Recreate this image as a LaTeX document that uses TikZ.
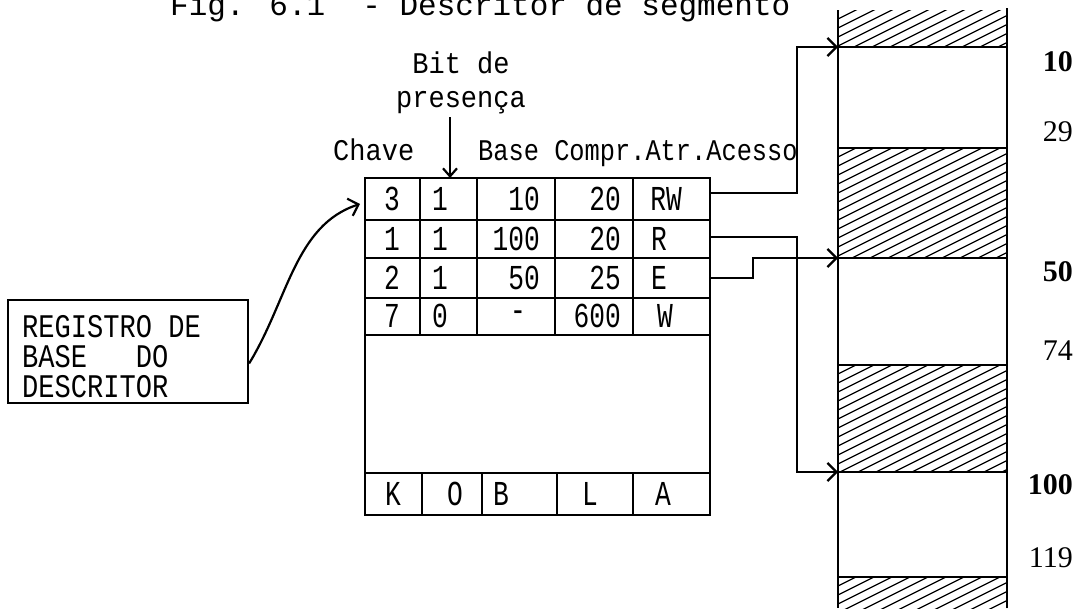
\documentclass[tikz,border=0pt]{standalone}
\usepackage{fontspec}
\usetikzlibrary{arrows.meta}
\newfontfamily\ttitle{Liberation Mono}
\newfontfamily\tlbl[FakeStretch=0.9]{Liberation Mono}
\newfontfamily\tlblb[FakeStretch=0.845]{Liberation Mono}
\newfontfamily\tcell[FakeStretch=0.75]{Liberation Mono}
\newfontfamily\treg[FakeStretch=0.82]{Liberation Mono}
\newfontfamily\tnum{Liberation Serif}
\newcommand\hatchreg[2]{%
  \begin{scope}
    \clip (838,#1) rectangle (1007,#2);
    \foreach \k in {0,...,24} {\draw[hatchline] (838,{#1+9*\k}) -- ++(400,-200);}
  \end{scope}}
\begin{document}
\begin{tikzpicture}[x=1pt,y=-1pt,
  tbl/.style={line width=2.6pt},
  conn/.style={line width=2.2pt},
  mem/.style={line width=2.4pt},
  hatchline/.style={line width=1.3pt},
  arrowv/.style={-{Straight Barb[length=9pt,width=18pt]}},
  arrowvs/.style={-{Straight Barb[length=8pt,width=14pt]}},
  cell/.style={inner sep=0pt, font=\tcell\fontsize{35}{40}\selectfont},
  lbl/.style={inner sep=0pt, font=\tlbl\fontsize{30}{34}\selectfont},
  lblb/.style={inner sep=0pt, font=\tlblb\fontsize{30}{34}\selectfont},
  regtxt/.style={inner sep=0pt, anchor=base west, font=\treg\fontsize{33}{36}\selectfont},
  num/.style={inner sep=0pt, anchor=east, font=\tnum\fontsize{30}{34}\selectfont},
  titlefont/.style={inner sep=0pt, font=\ttitle\fontsize{31}{36}\selectfont}]
\useasboundingbox (0,0) rectangle (1082,608);

% title
\node[titlefont, anchor=base west] (title) at (170,15) {Fig. 6.1\ \ - Descritor de segmento};

% header labels
\node[lbl, anchor=base] (bit1) at (461,73) {Bit de};
\node[lbl, anchor=base] (bit2) at (461,107) {presença};
\node[lbl, anchor=base west] (chave) at (333,160) {Chave};
\node[lblb, anchor=base west] (hdr) at (478,160) {Base Compr.Atr.Acesso};

% table
\draw[tbl] (365,178) rectangle (710,515);
\foreach \y in {220,258,298,335,473} \draw[tbl] (365,\y) -- (710,\y);
\foreach \x in {420,477,555,633} \draw[tbl] (\x,178) -- (\x,335);
\foreach \x in {422,482,557,633} \draw[tbl] (\x,473) -- (\x,515);

% row 1
\node[cell] (a1) at (392,199) {3};
\node[cell] (b1) at (440,199) {1};
\node[cell, anchor=east] (c1) at (540,199) {10};
\node[cell, anchor=east] (d1) at (621,199) {20};
\node[cell] (e1) at (666,199) {RW};
% row 2
\node[cell] (a2) at (392,239) {1};
\node[cell] (b2) at (440,239) {1};
\node[cell, anchor=east] (c2) at (540,239) {100};
\node[cell, anchor=east] (d2) at (621,239) {20};
\node[cell, anchor=west] (e2) at (651,239) {R};
% row 3
\node[cell] (a3) at (392,278) {2};
\node[cell] (b3) at (440,278) {1};
\node[cell, anchor=east] (c3) at (540,278) {50};
\node[cell, anchor=east] (d3) at (621,278) {25};
\node[cell, anchor=west] (e3) at (651,278) {E};
% row 4
\node[cell] (a4) at (392,316) {7};
\node[cell] (b4) at (440,316) {0};
\node[cell] (c4) at (518,316) {-};
\node[cell, anchor=east] (d4) at (621,316) {600};
\node[cell] (e4) at (665,316) {W};
% bottom row
\node[cell] (k) at (393,494) {K};
\node[cell] (o) at (455,494) {O};
\node[cell, anchor=west] (bb) at (493,494) {B};
\node[cell] (l) at (590,494) {L};
\node[cell] (aa) at (663,494) {A};

% register box
\node[draw, line width=2.2pt, minimum width=240pt, minimum height=103pt, inner sep=0pt] (reg) at (128,351.5) {};
\node[regtxt] (rt1) at (22,337) {REGISTRO DE};
\node[regtxt] (rt2) at (22,367) {BASE~~~DO};
\node[regtxt] (rt3) at (22,397) {DESCRITOR};

% memory column
\hatchreg{10}{47}
\hatchreg{148}{258}
\hatchreg{365}{472}
\hatchreg{577}{608}
\draw[mem] (838,10) -- (838,608);
\draw[mem] (1007,8) -- (1007,608);
\foreach \y in {47,148,258,365,472,577} \draw[mem] (838,\y) -- (1007,\y);

\node[num] (n10) at (1073,62) {\bfseries 10};
\node[num] (n29) at (1073,132) {29};
\node[num] (n50) at (1073,272) {\bfseries 50};
\node[num] (n74) at (1073,351) {74};
\node[num] (n100) at (1073,485) {\bfseries 100};
\node[num] (n119) at (1073,558) {119};

% connectors
\coordinate (o1) at (710,193);
\coordinate (o2) at (710,237);
\coordinate (o3) at (710,278);
\coordinate (m10) at (838,47);
\coordinate (m50) at (838,258);
\coordinate (m100) at (838,472);
\draw[conn, arrowv] (o1) -- ++(87,0) |- (m10);
\draw[conn, arrowv] (o2) -- ++(87,0) |- (m100);
\draw[conn, arrowv] (o3) -- ++(43,0) |- (m50);

\coordinate (bs) at (450,117);
\coordinate (be) at (450,178);
\draw[conn, arrowvs] (bs) -- (be);

\coordinate (tin) at (360,204);
\draw[conn, arrowv] ([yshift=-12pt]reg.east) .. controls (288,300) and (295,225) .. (tin);
\end{tikzpicture}
\end{document}
